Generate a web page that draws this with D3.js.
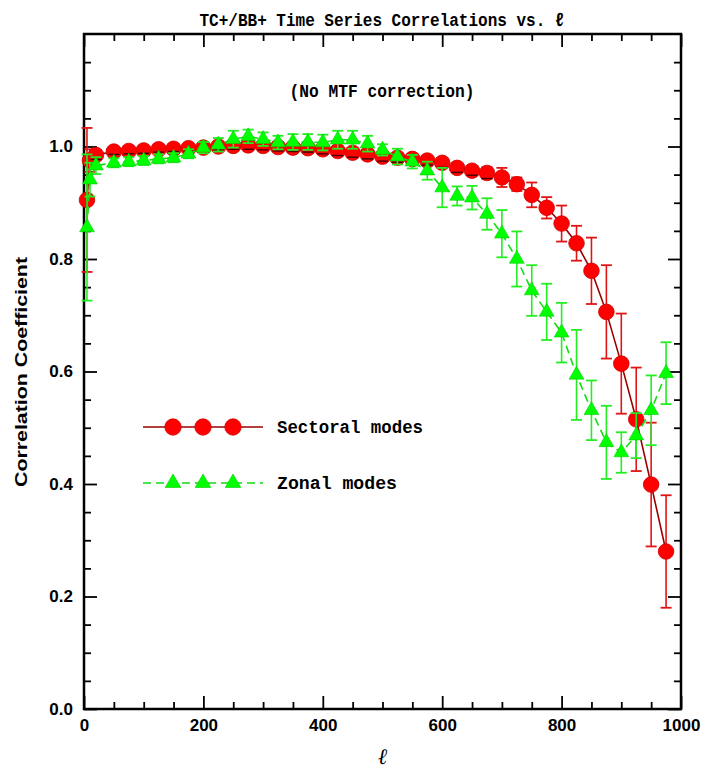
<!DOCTYPE html>
<html>
<head>
<meta charset="utf-8">
<script src="https://cdn.jsdelivr.net/npm/d3@7"></script>
<style>
html,body{margin:0;padding:0;background:#fff;}
svg{display:block;}
</style>
</head>
<body>
<svg id="chart" width="716" height="770"></svg>
<script>
// ---- data ----
const ell = [5, 10, 20, 50, 75, 100, 125, 150, 175, 200, 225, 250, 275, 300, 325, 350, 375, 400, 425, 450,
  475, 500, 525, 550, 575, 600, 625, 650, 675, 700, 725, 750, 775, 800, 825, 850, 875, 900, 925, 950, 975];
const sectoral = [0.905, 0.975, 0.985, 0.991, 0.992, 0.993, 0.995, 0.996, 0.997, 0.998, 1.0, 1.001, 1.002, 1.001, 0.999, 0.998, 0.997, 0.995, 0.992, 0.989,
  0.986, 0.982, 0.98, 0.978, 0.975, 0.971, 0.962, 0.957, 0.953, 0.945, 0.933, 0.914, 0.891, 0.863, 0.828, 0.779, 0.706, 0.614, 0.515, 0.399, 0.28];
const sectoralErr = [0.128, 0.02, 0.008, 0.005, 0.005, 0.005, 0.005, 0.005, 0.005, 0.006, 0.006, 0.006, 0.007, 0.007, 0.007, 0.007, 0.007, 0.008, 0.008, 0.008,
  0.008, 0.008, 0.008, 0.008, 0.008, 0.008, 0.008, 0.008, 0.01, 0.017, 0.012, 0.022, 0.019, 0.032, 0.031, 0.059, 0.083, 0.089, 0.092, 0.11, 0.10];
const zonal = [0.856, 0.941, 0.966, 0.971, 0.973, 0.975, 0.978, 0.98, 0.987, 0.998, 1.003, 1.013, 1.018, 1.013, 1.007, 1.008, 1.008, 1.007, 1.012, 1.012,
  1.005, 0.994, 0.982, 0.973, 0.957, 0.927, 0.912, 0.909, 0.88, 0.845, 0.80, 0.744, 0.706, 0.669, 0.594, 0.531, 0.474, 0.456, 0.486, 0.531, 0.597];
const zonalErr = [0.13, 0.03, 0.015, 0.008, 0.008, 0.008, 0.008, 0.008, 0.008, 0.01, 0.012, 0.015, 0.012, 0.012, 0.012, 0.014, 0.014, 0.014, 0.016, 0.016,
  0.014, 0.01, 0.014, 0.012, 0.016, 0.035, 0.017, 0.021, 0.028, 0.042, 0.049, 0.045, 0.05, 0.053, 0.08, 0.053, 0.065, 0.036, 0.04, 0.062, 0.055];
const xMajorTicks = [0, 200, 400, 600, 800, 1000];
const xMinorTicks = [50, 100, 150, 250, 300, 350, 450, 500, 550, 650, 700, 750, 850, 900, 950];
const yMajorTicks = [0, 0.2, 0.4, 0.6, 0.8, 1.0];
const yMinorTicks = [0.05, 0.1, 0.15, 0.25, 0.3, 0.35, 0.45, 0.5, 0.55, 0.65, 0.7, 0.75, 0.85, 0.9, 0.95, 1.05, 1.1, 1.15];
const seriesNames = ["Sectoral modes", "Zonal modes"];
const titleText = "TC+/BB+ Time Series Correlations vs. \u2113";
const noteText = "(No MTF correction)";
const yLabelText = "Correlation Coefficient";
const xLabelText = "\u2113";

// ---- layout ----
const svg = d3.select("#chart");
const L = 84, R = 681, T = 34, B = 709;
const x = d3.scaleLinear().domain([0, 1000]).range([L, R]);
const y = d3.scaleLinear().domain([0, 1.2]).range([B, T]);

const RED = "#ff0000", REDLINE = "#9a0000", REDBAR = "#e01414";
const GREEN = "#00ff00", GREENLINE = "#11dd11", GREENBAR = "#22ee22";

// ---- axes ----
function styleAxis(g) {
  g.select(".domain").remove();
  g.selectAll(".tick line").attr("stroke", "#000").attr("stroke-width", 1.8);
  g.selectAll(".tick text").attr("font-family", "Liberation Sans, Arial, sans-serif")
    .attr("font-weight", "bold").attr("font-size", 17).attr("fill", "#000");
}
// bottom
svg.append("g").attr("transform", `translate(0,${B})`)
  .call(d3.axisBottom(x).tickValues(xMajorTicks).tickSize(-13).tickPadding(10).tickFormat(d3.format("d")))
  .call(styleAxis);
svg.append("g").attr("transform", `translate(0,${B})`)
  .call(d3.axisBottom(x).tickValues(xMinorTicks).tickSize(-7).tickFormat(""))
  .call(styleAxis);
// top
svg.append("g").attr("transform", `translate(0,${T})`)
  .call(d3.axisTop(x).tickValues(xMajorTicks).tickSize(-13).tickFormat(""))
  .call(styleAxis);
svg.append("g").attr("transform", `translate(0,${T})`)
  .call(d3.axisTop(x).tickValues(xMinorTicks).tickSize(-7).tickFormat(""))
  .call(styleAxis);
// left
svg.append("g").attr("transform", `translate(${L},0)`)
  .call(d3.axisLeft(y).tickValues(yMajorTicks).tickSize(-13).tickPadding(11).tickFormat(d3.format(".1f")))
  .call(styleAxis);
svg.append("g").attr("transform", `translate(${L},0)`)
  .call(d3.axisLeft(y).tickValues(yMinorTicks).tickSize(-7).tickFormat(""))
  .call(styleAxis);
// right
svg.append("g").attr("transform", `translate(${R},0)`)
  .call(d3.axisRight(y).tickValues(yMajorTicks).tickSize(-13).tickFormat(""))
  .call(styleAxis);
svg.append("g").attr("transform", `translate(${R},0)`)
  .call(d3.axisRight(y).tickValues(yMinorTicks).tickSize(-7).tickFormat(""))
  .call(styleAxis);
// frame
svg.append("rect").attr("x", L).attr("y", T).attr("width", R - L).attr("height", B - T)
  .attr("fill", "none").attr("stroke", "#000").attr("stroke-width", 2.5);

// ---- titles ----
const monoFont = "Liberation Mono, DejaVu Sans Mono, monospace";
svg.append("text").attr("x", 382).attr("y", 26).attr("text-anchor", "middle")
  .attr("font-family", monoFont).attr("font-weight", "bold").attr("font-size", 19)
  .attr("textLength", 365).attr("lengthAdjust", "spacingAndGlyphs").text(titleText);
svg.append("text").attr("x", 382).attr("y", 97).attr("text-anchor", "middle")
  .attr("font-family", monoFont).attr("font-weight", "bold").attr("font-size", 19)
  .attr("textLength", 185).attr("lengthAdjust", "spacingAndGlyphs").text(noteText);
svg.append("text").attr("transform", "translate(27,372) rotate(-90)").attr("text-anchor", "middle")
  .attr("font-family", "Liberation Sans, Arial, sans-serif").attr("font-weight", "bold").attr("font-size", 17)
  .attr("textLength", 230).attr("lengthAdjust", "spacingAndGlyphs").text(yLabelText);
svg.append("text").attr("x", 383).attr("y", 764).attr("text-anchor", "middle")
  .attr("font-family", "DejaVu Serif, serif").attr("font-style", "italic").attr("font-weight", "bold")
  .attr("font-size", 22).text(xLabelText);

// ---- data ----
const pts = ell.map((l, i) => ({l, s: sectoral[i], se: sectoralErr[i], z: zonal[i], ze: zonalErr[i]}));
const cap = 5.5;

function errorBars(g, key, ekey, color) {
  const e = g.selectAll("g").data(pts).join("g");
  e.append("line").attr("x1", d => x(d.l)).attr("x2", d => x(d.l))
    .attr("y1", d => y(d[key] - d[ekey])).attr("y2", d => y(d[key] + d[ekey]))
    .attr("stroke", color).attr("stroke-width", 1.6);
  e.append("line").attr("x1", d => x(d.l) - cap).attr("x2", d => x(d.l) + cap)
    .attr("y1", d => y(d[key] - d[ekey])).attr("y2", d => y(d[key] - d[ekey]))
    .attr("stroke", color).attr("stroke-width", 1.8);
  e.append("line").attr("x1", d => x(d.l) - cap).attr("x2", d => x(d.l) + cap)
    .attr("y1", d => y(d[key] + d[ekey])).attr("y2", d => y(d[key] + d[ekey]))
    .attr("stroke", color).attr("stroke-width", 1.8);
}

// sectoral
const gs = svg.append("g");
gs.append("path").datum(pts)
  .attr("d", d3.line().x(d => x(d.l)).y(d => y(d.s)))
  .attr("fill", "none").attr("stroke", REDLINE).attr("stroke-width", 1.6);
errorBars(gs.append("g"), "s", "se", REDBAR);
gs.append("g").selectAll("circle").data(pts).join("circle")
  .attr("cx", d => x(d.l)).attr("cy", d => y(d.s)).attr("r", 7.8)
  .attr("fill", RED).attr("stroke", "#d00000").attr("stroke-width", 0.8);
// dark error marks seen through the markers
gs.append("g").selectAll("line").data(pts.filter(d => d.se < 0.012)).join("line")
  .attr("x1", d => x(d.l) - cap).attr("x2", d => x(d.l) + cap)
  .attr("y1", d => y(d.s - d.se)).attr("y2", d => y(d.s - d.se))
  .attr("stroke", "#400000").attr("stroke-width", 1.4);

// zonal
const gz = svg.append("g");
gz.append("path").datum(pts)
  .attr("d", d3.line().x(d => x(d.l)).y(d => y(d.z)))
  .attr("fill", "none").attr("stroke", GREENLINE).attr("stroke-width", 1.6)
  .attr("stroke-dasharray", "8,5");
errorBars(gz.append("g"), "z", "ze", GREENBAR);
const tri = d3.symbol().type(d3.symbolTriangle).size(95);
gz.append("g").selectAll("path").data(pts).join("path")
  .attr("transform", d => `translate(${x(d.l)},${y(d.z)})`)
  .attr("d", tri).attr("fill", GREEN).attr("stroke", "#00cc00").attr("stroke-width", 0.6);

// ---- legend ----
const leg = svg.append("g");
const legY = [427, 483];
const legX = [143, 173, 203, 233, 263];
leg.append("line").attr("x1", legX[0]).attr("x2", legX[4]).attr("y1", legY[0]).attr("y2", legY[0])
  .attr("stroke", REDLINE).attr("stroke-width", 1.6);
leg.selectAll("circle").data(legX.slice(1, 4)).join("circle")
  .attr("cx", d => d).attr("cy", legY[0]).attr("r", 8.2).attr("fill", RED).attr("stroke", "#d00000").attr("stroke-width", 0.8);
leg.append("line").attr("x1", legX[0]).attr("x2", legX[4]).attr("y1", legY[1]).attr("y2", legY[1])
  .attr("stroke", GREENLINE).attr("stroke-width", 1.6).attr("stroke-dasharray", "8,5");
const triL = d3.symbol().type(d3.symbolTriangle).size(105);
leg.selectAll("path.t").data(legX.slice(1, 4)).join("path").attr("class", "t")
  .attr("transform", d => `translate(${d},${legY[1]})`).attr("d", triL).attr("fill", GREEN).attr("stroke", "#00cc00").attr("stroke-width", 0.6);
leg.append("text").attr("x", 277).attr("y", legY[0] + 6).attr("font-family", monoFont).attr("font-weight", "bold")
  .attr("font-size", 19).attr("textLength", 146).attr("lengthAdjust", "spacingAndGlyphs").text(seriesNames[0]);
leg.append("text").attr("x", 277).attr("y", legY[1] + 6).attr("font-family", monoFont).attr("font-weight", "bold")
  .attr("font-size", 19).attr("textLength", 120).attr("lengthAdjust", "spacingAndGlyphs").text(seriesNames[1]);
</script>
</body>
</html>
